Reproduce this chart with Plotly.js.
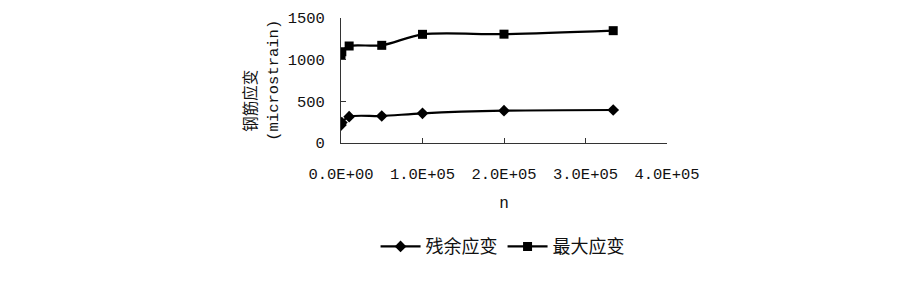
<!DOCTYPE html>
<html>
<head>
<meta charset="utf-8">
<script src="https://cdn.plot.ly/plotly-3.0.1.min.js"></script>
<style>html,body{margin:0;padding:0;background:#fff;}#chart{width:920px;height:297px;}</style>
</head>
<body>
<div id="chart"></div>
<script>
var cycles = [1, 1000, 10000, 50000, 100000, 200000, 334000];
var residualStrain = [215, 245, 316, 324, 356, 388, 396];
var maxStrain = [1050, 1095, 1164, 1172, 1304, 1306, 1348];
var seriesNames = ['残余应变', '最大应变'];
var xTickVals = [0, 100000, 200000, 300000, 400000];
var xTickText = ['0.0E+00', '1.0E+05', '2.0E+05', '3.0E+05', '4.0E+05'];
var yTickVals = [0, 500, 1000, 1500];

var monoFont = 'Liberation Mono, DejaVu Sans Mono, monospace';
var cjkFont = 'Noto Sans CJK SC, sans-serif';

var traces = [
  {x: cycles, y: residualStrain, name: seriesNames[0], type: 'scatter', mode: 'lines+markers',
   line: {color: '#000', width: 2.2, shape: 'spline', smoothing: 0.8},
   marker: {symbol: 'diamond', size: 9, color: '#000'}},
  {x: cycles, y: maxStrain, name: seriesNames[1], type: 'scatter', mode: 'lines+markers',
   line: {color: '#000', width: 2.2, shape: 'spline', smoothing: 0.8},
   marker: {symbol: 'square', size: 9, color: '#000'}}
];

var layout = {
  width: 920, height: 297,
  margin: {l: 341, r: 253, t: 18, b: 154},
  paper_bgcolor: '#fff', plot_bgcolor: '#fff',
  showlegend: true,
  xaxis: {
    range: [0, 400000], tickvals: xTickVals, ticktext: xTickText,
    showgrid: false, zeroline: false, showline: true, linecolor: '#333', linewidth: 1,
    ticks: 'inside', ticklen: 5, tickcolor: '#333',
    ticklabelstandoff: 16,
    tickfont: {family: monoFont, size: 15.5, color: '#111'},
    title: {text: 'n', font: {family: monoFont, size: 16, color: '#111'}, standoff: 14}
  },
  yaxis: {
    range: [0, 1500], tickvals: yTickVals,
    showgrid: false, zeroline: false, showline: true, linecolor: '#333', linewidth: 1,
    ticks: 'inside', ticklen: 5, tickcolor: '#333',
    ticklabelstandoff: 12,
    tickfont: {family: monoFont, size: 15.5, color: '#111'}
  },
  legend: {
    orientation: 'h', x: 0.106, xanchor: 'left', y: -0.83, yanchor: 'middle',
    font: {family: cjkFont, size: 18, color: '#111'},
    itemwidth: 40, tracegroupgap: 0
  },
  annotations: [
    {text: '钢筋应变', xref: 'paper', yref: 'paper', x: -0.283, y: 0.335, xanchor: 'center', yanchor: 'middle',
     textangle: -90, showarrow: false, font: {family: cjkFont, size: 15.5, color: '#111'}},
    {text: '(microstrain)', xref: 'paper', yref: 'paper', x: -0.208, y: 0.5, xanchor: 'center', yanchor: 'middle',
     textangle: -90, showarrow: false, font: {family: monoFont, size: 15.5, color: '#111'}}
  ]
};

Plotly.newPlot('chart', traces, layout, {displayModeBar: false, staticPlot: true});
</script>
</body>
</html>
